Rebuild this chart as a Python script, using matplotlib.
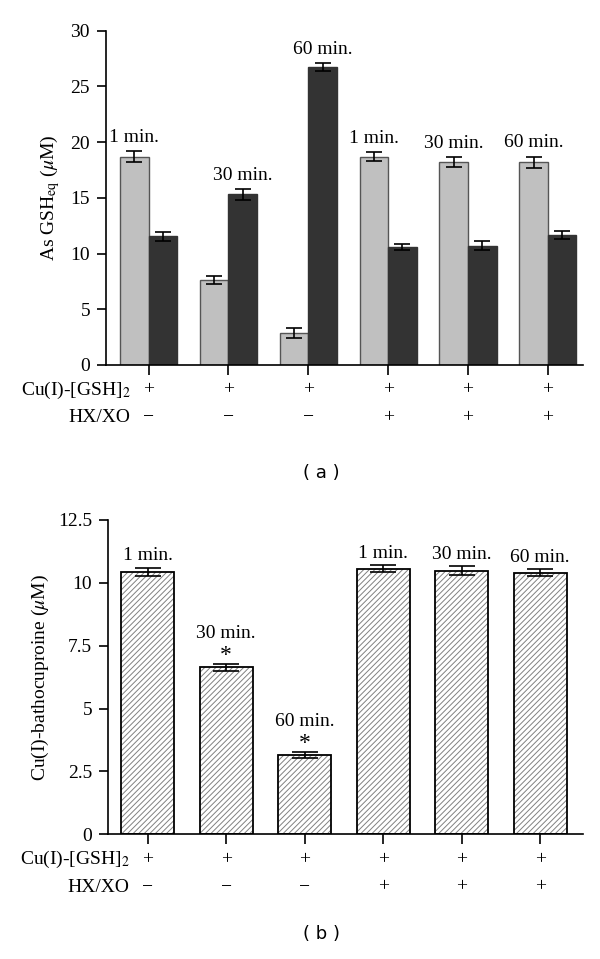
import matplotlib
matplotlib.use("Agg")
import matplotlib.pyplot as plt
import numpy as np

# conditions (one per group)
times = ['1 min.', '30 min.', '60 min.', '1 min.', '30 min.', '60 min.']
cu_row = ['+', '+', '+', '+', '+', '+']
hx_row = ['\u2212', '\u2212', '\u2212', '+', '+', '+']

# panel a : As GSH_eq (uM), light / dark bars
gsh_light = [18.7, 7.6, 2.9, 18.7, 18.2, 18.2]
gsh_light_err = [0.5, 0.35, 0.45, 0.4, 0.45, 0.5]
gsh_dark = [11.55, 15.3, 26.75, 10.6, 10.7, 11.65]
gsh_dark_err = [0.4, 0.5, 0.35, 0.3, 0.4, 0.35]

# panel b : Cu(I)-bathocuproine (uM)
bc_vals = [10.43, 6.65, 3.16, 10.57, 10.49, 10.41]
bc_err = [0.17, 0.14, 0.13, 0.12, 0.16, 0.14]
bc_sig = [False, True, True, False, False, False]

FS = 14
plt.rcParams['font.family'] = ['Liberation Serif', 'DejaVu Serif']
plt.rcParams['mathtext.fontset'] = 'stix'
plt.rcParams['hatch.linewidth'] = 0.7


def style_axis(ax, yticks, ylabels, xlim):
    ax.spines['top'].set_visible(False)
    ax.spines['right'].set_visible(False)
    for s in ('left', 'bottom'):
        ax.spines[s].set_linewidth(1.2)
    ax.set_yticks(yticks, ylabels)
    ax.set_ylim(yticks[0], yticks[-1])
    ax.set_xlim(*xlim)
    ax.set_xticks(np.arange(len(times)), [''] * len(times))
    ax.tick_params(axis='y', length=6.5, width=1.2, pad=5, labelsize=FS)
    ax.tick_params(axis='x', length=7, width=1.2)


def condition_rows(ax):
    tr = ax.get_xaxis_transform()
    ax.annotate('Cu(I)-[GSH]$_2$', (0, 0), xycoords=tr, xytext=(-13, -18),
                textcoords='offset points', ha='right', va='center', fontsize=FS)
    ax.annotate('HX/XO', (0, 0), xycoords=tr, xytext=(-13, -38),
                textcoords='offset points', ha='right', va='center', fontsize=FS)
    for i in range(len(times)):
        ax.annotate(cu_row[i], (i, 0), xycoords=tr, xytext=(0, -18),
                    textcoords='offset points', ha='center', va='center', fontsize=FS)
        ax.annotate(hx_row[i], (i, 0), xycoords=tr, xytext=(0, -38),
                    textcoords='offset points', ha='center', va='center', fontsize=FS)


if (__name__ == "__main__"):

    fig = plt.figure(figsize=(6, 9.59), dpi=100)
    axA = fig.add_axes([0.1767, 0.6194, 0.795, 0.3486])
    axB = fig.add_axes([0.18, 0.13, 0.7917, 0.3278])
    x = np.arange(len(times))

    # ---- panel a
    w = 0.357
    axA.bar(x - w / 2, gsh_light, w, color='#c0c0c0', edgecolor='#555555', linewidth=1.0, zorder=2)
    axA.bar(x + w / 2, gsh_dark, w, color='#333333', edgecolor='#333333', linewidth=1.0, zorder=2)
    axA.errorbar(x - w / 2, gsh_light, yerr=gsh_light_err, fmt='none', ecolor='black',
                 elinewidth=1.2, capsize=6, capthick=1.2, zorder=3)
    axA.errorbar(x + w / 2, gsh_dark, yerr=gsh_dark_err, fmt='none', ecolor='black',
                 elinewidth=1.2, capsize=6, capthick=1.2, zorder=3)
    for i in range(len(times)):
        if gsh_light[i] >= gsh_dark[i]:
            xi, top = x[i] - w / 2, gsh_light[i] + gsh_light_err[i]
        else:
            xi, top = x[i] + w / 2, gsh_dark[i] + gsh_dark_err[i]
        axA.annotate(times[i], (xi, top), xytext=(0, 10), textcoords='offset points',
                     ha='center', va='center', fontsize=FS)
    style_axis(axA, [0, 5, 10, 15, 20, 25, 30], ['0', '5', '10', '15', '20', '25', '30'], (-0.532, 5.44))
    axA.set_ylabel('As GSH$_{\\rm eq}$ ($\\mu$M)', fontsize=FS, labelpad=6)
    condition_rows(axA)

    # ---- panel b
    wb = 0.675
    axB.bar(x, bc_vals, wb, color='white', edgecolor='#808080', linewidth=0, hatch='//////', zorder=2)
    axB.bar(x, bc_vals, wb, color='none', edgecolor='black', linewidth=1.3, zorder=3)
    axB.errorbar(x, bc_vals, yerr=bc_err, fmt='none', ecolor='black',
                 elinewidth=1.2, capsize=9.5, capthick=1.2, zorder=4)
    for i in range(len(times)):
        top = bc_vals[i] + bc_err[i]
        if bc_sig[i]:
            axB.annotate('*', (x[i], top), xytext=(0, 6), textcoords='offset points',
                         ha='center', va='center', fontsize=17)
            axB.annotate(times[i], (x[i], top), xytext=(0, 22), textcoords='offset points',
                         ha='center', va='center', fontsize=FS)
        else:
            axB.annotate(times[i], (x[i], top), xytext=(0, 8.5), textcoords='offset points',
                         ha='center', va='center', fontsize=FS)
    style_axis(axB, [0, 2.5, 5, 7.5, 10, 12.5], ['0', '2.5', '5', '7.5', '10', '12.5'], (-0.506, 5.545))
    axB.set_ylabel('Cu(I)-bathocuproine ($\\mu$M)', fontsize=FS, labelpad=5)
    condition_rows(axB)

    fig.text(0.536, 1 - 473 / 959, '( a )', family='DejaVu Sans', fontsize=13, ha='center', va='center')
    fig.text(0.536, 1 - 934 / 959, '( b )', family='DejaVu Sans', fontsize=13, ha='center', va='center')

    plt.savefig("out.png", dpi=100)
